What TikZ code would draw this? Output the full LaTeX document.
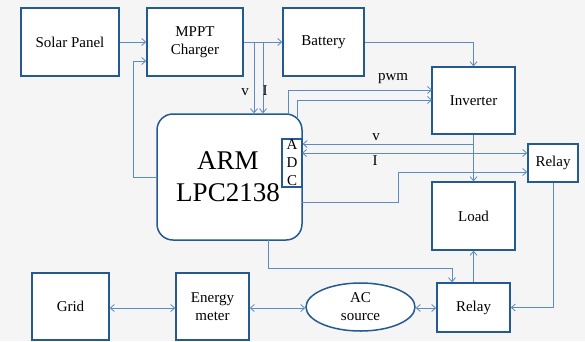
\documentclass[tikz,border=0pt]{standalone}
\usepackage{fontspec}
\setmainfont{Liberation Serif}
\usetikzlibrary{arrows.meta,shapes.geometric}
\definecolor{boxc}{HTML}{245A92}
\definecolor{linec}{HTML}{5B8BC0}
\definecolor{bgc}{HTML}{F5F5F5}
\tikzset{
  blk/.style={draw=boxc, line width=1.5pt, fill=white, inner sep=1pt, align=center, font=\fontsize{15}{18}\selectfont},
  conn/.style={draw=linec, line width=0.8pt, -{Straight Barb[length=4pt,width=7pt]}},
  conn2/.style={draw=linec, line width=0.8pt, {Straight Barb[length=4pt,width=7pt]}-{Straight Barb[length=4pt,width=7pt]}},
  plain/.style={draw=linec, line width=0.8pt},
  lbl/.style={font=\fontsize{15}{18}\selectfont, inner sep=0pt}
}
\begin{document}
\begin{tikzpicture}[x=1pt,y=-1pt]
\fill[bgc] (0,0) rectangle (585,341);
\useasboundingbox (0,0) rectangle (585,341);
% blocks
\node[blk, minimum width=98pt, minimum height=68pt] (solar) at (70,42) {Solar Panel};
\node[blk, minimum width=96pt, minimum height=68pt] (mppt) at (195,42) {MPPT\\Charger};
\node[blk, minimum width=81pt, minimum height=68pt] (bat) at (323.5,42) {Battery};
\node[blk, minimum width=83pt, minimum height=67pt] (inv) at (473.5,100.5) {Inverter};
\node[blk, minimum width=83pt, minimum height=68pt] (load) at (473.5,216) {Load};
\node[blk, minimum width=50pt, minimum height=38pt] (relr) at (553,163) {Relay};
\node[blk, rounded corners=16pt, minimum width=145pt, minimum height=126pt] (arm) at (229.5,177) {};
\node[font=\fontsize{27}{32}\selectfont, align=center, inner sep=0pt] (armt) at (228,177) {ARM\\LPC2138};
\node[blk, minimum width=20pt, minimum height=48pt, inner sep=0pt, line width=1.2pt] (adc) at (292,163) {};
\node[lbl] (adcA) at (292,145) {A};
\node[lbl] (adcD) at (292,163) {D};
\node[lbl] (adcC) at (292,181) {C};
\node[blk, minimum width=77pt, minimum height=67pt] (grid) at (70.5,306.5) {Grid};
\node[blk, minimum width=73pt, minimum height=67pt] (em) at (212.5,306.5) {Energy\\meter};
\node[blk, ellipse, minimum width=109pt, minimum height=48pt, inner sep=0pt] (ac) at (360.5,307) {AC\\source};
\node[blk, minimum width=73pt, minimum height=49pt] (relb) at (473.5,307.5) {Relay};
% coordinates
\coordinate (lp) at (133,61);
\coordinate (vx) at (254,42);
\coordinate (ix) at (263,42);
\coordinate (p1) at (288,114);
\coordinate (p1e) at (432,90);
\coordinate (p2) at (297,119);
\coordinate (p2e) at (432,100);
\coordinate (vj) at (473.5,144);
\coordinate (iy) at (302,153);
\coordinate (c1) at (302,202);
\coordinate (c2) at (398,172);
\coordinate (b1) at (268,240);
\coordinate (b2) at (452,268);
% connectors
\draw[conn] (solar.east) -- (mppt.west);
\draw[conn] (arm.west) -| (lp) -- (mppt.west |- lp);
\draw[conn] (mppt.east) -- (bat.west);
\draw[conn] (vx) -- (vx |- arm.north);
\draw[conn] (ix) -- (ix |- arm.north);
\draw[conn] (bat.east) -| (inv.north);
\draw[conn] (p1) |- (p1e);
\draw[conn] (p2) |- (p2e);
\draw[conn] (inv.south) -- (load.north);
\draw[conn] (vj) -- (adc.east |- vj);
\draw[conn2] (iy) -- (relr.west |- iy);
\draw[conn] (c1) -- (c1 -| c2) -- (c2) -- (relr.west |- c2);
\draw[conn] (relr.south) |- (relb.east);
\draw[conn] (b1) |- (b2) -- (b2 |- relb.north);
\draw[conn] (relb.north) -- (load.south);
\draw[conn2] (grid.east |- 0,308) -- (em.west |- 0,308);
\draw[conn2] (em.east |- 0,308) -- (ac.west |- 0,308);
\draw[conn2] (ac.east |- 0,308) -- (relb.west |- 0,308);
% labels
\node[lbl] (lv) at (245,92) {v};
\node[lbl] (li) at (265,91) {I};
\node[lbl] (lpwm) at (393,79) {pwm};
\node[lbl] (lv2) at (376,137) {v};
\node[lbl] (li2) at (375,161) {I};
\end{tikzpicture}
\end{document}
